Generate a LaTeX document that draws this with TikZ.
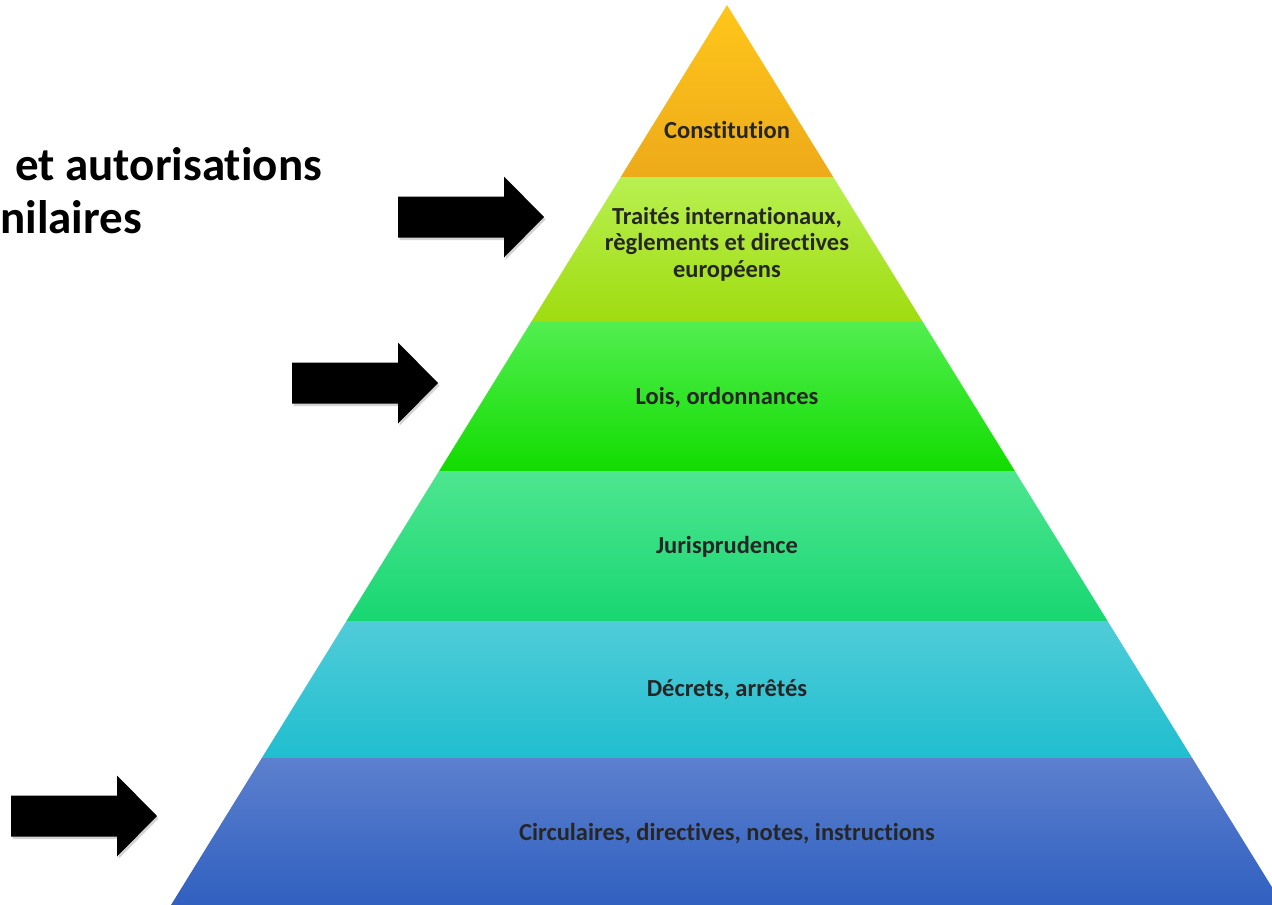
\documentclass[tikz,border=0pt]{standalone}
\usepackage{fontspec}
\setmainfont[Ligatures=NoCommon]{Carlito}
\usepackage{tikz}
\usetikzlibrary{shadows}

\definecolor{constTop}{HTML}{FFC61A}
\definecolor{constBot}{HTML}{EDAA1A}
\definecolor{traitTop}{HTML}{B8F050}
\definecolor{traitBot}{HTML}{A0DC10}
\definecolor{loisTop}{HTML}{52EE50}
\definecolor{loisBot}{HTML}{12DC00}
\definecolor{jurisTop}{HTML}{4EE690}
\definecolor{jurisBot}{HTML}{18D672}
\definecolor{decrTop}{HTML}{50CCD8}
\definecolor{decrBot}{HTML}{20BED0}
\definecolor{circTop}{HTML}{5C80CE}
\definecolor{circBot}{HTML}{3060C0}

\begin{document}
\begin{tikzpicture}[x=1pt, y=-1pt,
  level/.style={font=\fontsize{24.5}{26.5}\selectfont\bfseries, text=black!85, align=center},
  side/.style={font=\fontsize{47}{57}\selectfont\bfseries, anchor=base west, inner sep=0pt},
  bigarrow/.style={fill=black, drop shadow={shadow xshift=1.5pt, shadow yshift=-2.5pt, opacity=0.35}}]

  \useasboundingbox (0,0) rectangle (1272,905);

  % Pyramid bands (top y / bottom y / colours)
  \foreach \yt/\yb/\ct/\cb in {5/177/constTop/constBot, 177/322/traitTop/traitBot,
      322/471/loisTop/loisBot, 471/621/jurisTop/jurisBot,
      621/758/decrTop/decrBot, 758/905/circTop/circBot} {
    \shade[top color=\ct, bottom color=\cb]
      ({727-0.6178*(\yt-5)},\yt) -- ({727+0.6178*(\yt-5)},\yt)
      -- ({727+0.6178*(\yb-5)},\yb) -- ({727-0.6178*(\yb-5)},\yb) -- cycle;
  }

  % Labels of the levels
  \node[level] (constitution) at (727,130) {Constitution};
  \node[level] (traites) at (727,244) {Traités internationaux,\\règlements et directives\\européens};
  \node[level] (lois) at (727,398) {Lois, ordonnances};
  \node[level] (juris) at (727,547) {Jurisprudence};
  \node[level] (decrets) at (727,690) {Décrets, arrêtés};
  \node[level] (circulaires) at (727,834) {Circulaires, directives, notes, instructions};

  % Arrows (tip x / tip y)
  \foreach \tx/\ty in {544/217, 438/383, 157/816} {
    \fill[bigarrow] (\tx,\ty) -- ++(-40,-40.5) -- ++(0,20) -- ++(-106,0)
      -- ++(0,41) -- ++(106,0) -- ++(0,20) -- cycle;
  }

  % Text on the left
  \node[side] (autor) at (15,180) {et autorisations};
  \node[side] (simil) at (0,233) {nilaires};
\end{tikzpicture}
\end{document}
